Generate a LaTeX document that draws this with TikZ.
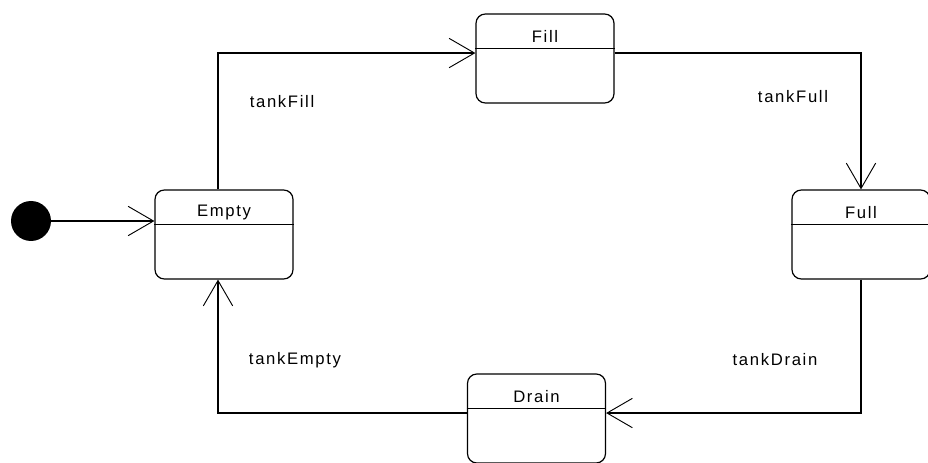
\documentclass[tikz,border=0pt]{standalone}
\usepackage{fontspec}
\setmainfont{Liberation Sans}[LetterSpace=10]
\usetikzlibrary{arrows.meta}

\tikzstyle{state}=[draw, line width=0.9pt, rectangle, rounded corners=7pt, minimum width=103.5pt, minimum height=66.75pt, inner sep=0pt]
\tikzstyle{divider}=[line width=0.9pt]
\tikzstyle{initial}=[circle, fill=black, minimum size=30pt, inner sep=0pt]
\tikzstyle{trans}=[line width=0.9pt, -{Straight Barb[length=19pt, width=22pt, line width=0.7pt]}]
\tikzstyle{event}=[font=\fontsize{12.5}{14}\selectfont]

\begin{document}
\begin{tikzpicture}[x=0.75pt, y=-0.75pt, font=\fontsize{12.5}{14}\selectfont]
      \useasboundingbox (0,0) rectangle (928,463);
      \foreach \n/\t/\x/\y in {empty/Empty/224/234.5, fill/Fill/545/58.5, full/Full/861/234.5, drain/Drain/536.5/418.5} {%
        \node[state] (\n) at (\x, \y) {};
        \draw[divider] ([yshift=-26.25pt]\n.north -| \n.west) -- ([yshift=-26.25pt]\n.north -| \n.east);
        \node (\n label) at ([yshift=-17pt]\n.north) {\t};
      }
      \node[initial] (start) at (31, 221) {};
      \draw[trans] (start) to (empty.west |- start);
      \draw[trans] ([xshift=-4.5pt]empty.north) |- ([yshift=4.1pt]fill.west);
      \draw[trans] ([yshift=4.1pt]fill.east) -| (full.north);
      \draw[trans] (full.south) |- ([yshift=4.1pt]drain.east);
      \draw[trans] ([yshift=4.1pt]drain.west) -| ([xshift=-4.5pt]empty.south);
      \node[event] (tankfill) at (282, 102) {tankFill};
      \node[event] (tankfull) at (793, 97) {tankFull};
      \node[event] (tankdrain) at (775, 360) {tankDrain};
      \node[event] (tankempty) at (295, 360) {tankEmpty};
    \end{tikzpicture}
\end{document}
